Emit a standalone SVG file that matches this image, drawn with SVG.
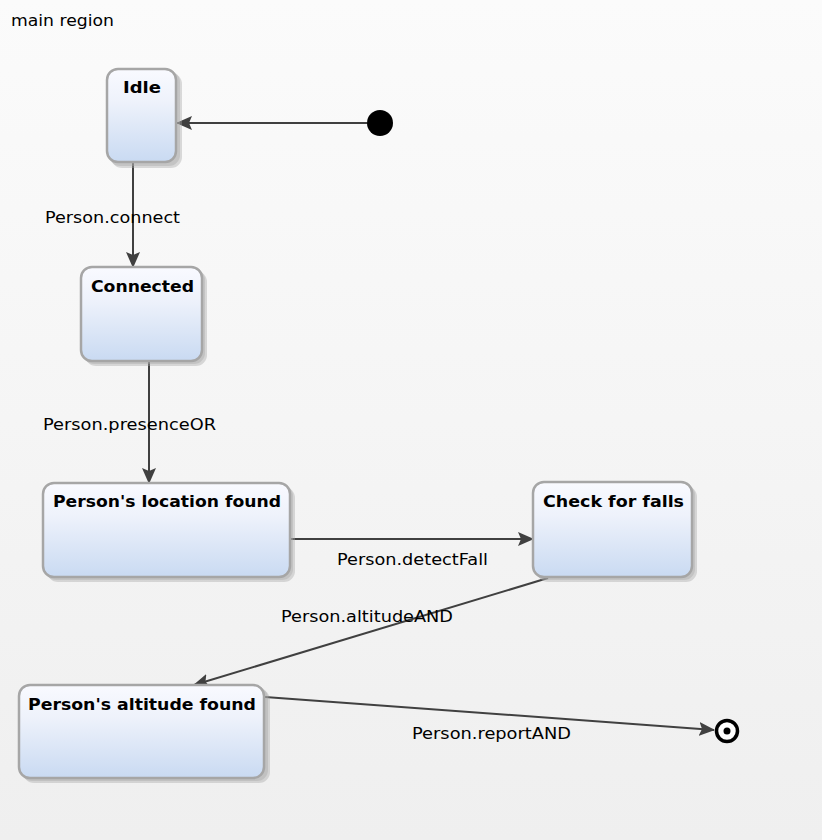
<svg xmlns="http://www.w3.org/2000/svg" width="822" height="840" viewBox="0 0 822 840">
<defs>
<linearGradient id="bg" x1="0" y1="0" x2="0" y2="1">
<stop offset="0" stop-color="#fbfbfb"/>
<stop offset="1" stop-color="#efefef"/>
</linearGradient>
<linearGradient id="fill" x1="0" y1="0" x2="0" y2="1">
<stop offset="0" stop-color="#f9faff"/>
<stop offset="0.35" stop-color="#eef2fb"/>
<stop offset="1" stop-color="#c9daf2"/>
</linearGradient>
<marker id="arr" viewBox="0 0 16 14" refX="15" refY="7" markerWidth="16" markerHeight="14" markerUnits="userSpaceOnUse" orient="auto">
<path d="M0,0 L16,7 L0,14 L3,7 Z" fill="#404040"/>
</marker>
</defs>
<style>
.shadow{fill:#a8a8a8;opacity:0.4}
.box{fill:url(#fill);stroke:#a6a6a6;stroke-width:2.5}
.title{font-family:"DejaVu Sans",Verdana,sans-serif;font-weight:bold;font-size:16px;fill:#000}
.lbl{font-family:"DejaVu Sans",Verdana,sans-serif;font-size:15.5px;fill:#000}
.edge{stroke:#404040;stroke-width:2;fill:none;marker-end:url(#arr)}
</style>
<rect x="0" y="0" width="822" height="840" fill="url(#bg)"/>
<text class="lbl" x="11" y="26" textLength="103" lengthAdjust="spacingAndGlyphs">main region</text>

<g id="connectors">
<line class="edge" x1="367" y1="123" x2="177" y2="123"/>
<line class="edge" x1="133" y1="163" x2="133" y2="267"/>
<line class="edge" x1="149" y1="362" x2="149" y2="483"/>
<line class="edge" x1="291" y1="539" x2="533" y2="539"/>
<line class="edge" x1="548" y1="578" x2="194" y2="685"/>
<line class="edge" x1="265" y1="697" x2="714" y2="730"/>
<text class="lbl" x="45" y="223" textLength="135" lengthAdjust="spacingAndGlyphs">Person.connect</text>
<text class="lbl" x="43" y="430" textLength="173" lengthAdjust="spacingAndGlyphs">Person.presenceOR</text>
<text class="lbl" x="337" y="565" textLength="151" lengthAdjust="spacingAndGlyphs">Person.detectFall</text>
<text class="lbl" x="281" y="622" textLength="172" lengthAdjust="spacingAndGlyphs">Person.altitudeAND</text>
<text class="lbl" x="412" y="739" textLength="159" lengthAdjust="spacingAndGlyphs">Person.reportAND</text>
</g>

<g id="initial">
<circle cx="380" cy="123" r="13" fill="#000"/>
</g>

<g id="idle">
<rect class="shadow" x="111" y="73" width="71" height="95" rx="11"/>
<rect class="shadow" x="109" y="71" width="71" height="95" rx="11"/>
<rect class="box" x="107" y="69" width="69" height="93" rx="11"/>
<text class="title" x="123" y="93" textLength="38" lengthAdjust="spacingAndGlyphs">Idle</text>
</g>

<g id="connected">
<rect class="shadow" x="85" y="271" width="122" height="95" rx="11"/>
<rect class="shadow" x="83" y="269" width="122" height="95" rx="11"/>
<rect class="box" x="81" y="267" width="121" height="94" rx="11"/>
<text class="title" x="91" y="292" textLength="103" lengthAdjust="spacingAndGlyphs">Connected</text>
</g>

<g id="location">
<rect class="shadow" x="47" y="487" width="248" height="95" rx="11"/>
<rect class="shadow" x="45" y="485" width="248" height="95" rx="11"/>
<rect class="box" x="43" y="483" width="247" height="94" rx="11"/>
<text class="title" x="53" y="507" textLength="228" lengthAdjust="spacingAndGlyphs">Person's location found</text>
</g>

<g id="checkfalls">
<rect class="shadow" x="537" y="486" width="160" height="96" rx="11"/>
<rect class="shadow" x="535" y="484" width="160" height="96" rx="11"/>
<rect class="box" x="533" y="482" width="159" height="95" rx="11"/>
<text class="title" x="543" y="507" textLength="141" lengthAdjust="spacingAndGlyphs">Check for falls</text>
</g>

<g id="altitude">
<rect class="shadow" x="23" y="689" width="247" height="94" rx="11"/>
<rect class="shadow" x="21" y="687" width="247" height="94" rx="11"/>
<rect class="box" x="19" y="685" width="245" height="93" rx="11"/>
<text class="title" x="28" y="710" textLength="228" lengthAdjust="spacingAndGlyphs">Person's altitude found</text>
</g>

<g id="final">
<circle cx="727" cy="731" r="10.5" fill="#fff" stroke="#000" stroke-width="3.5"/>
<circle cx="727" cy="731" r="3.5" fill="#000"/>
</g>
</svg>
